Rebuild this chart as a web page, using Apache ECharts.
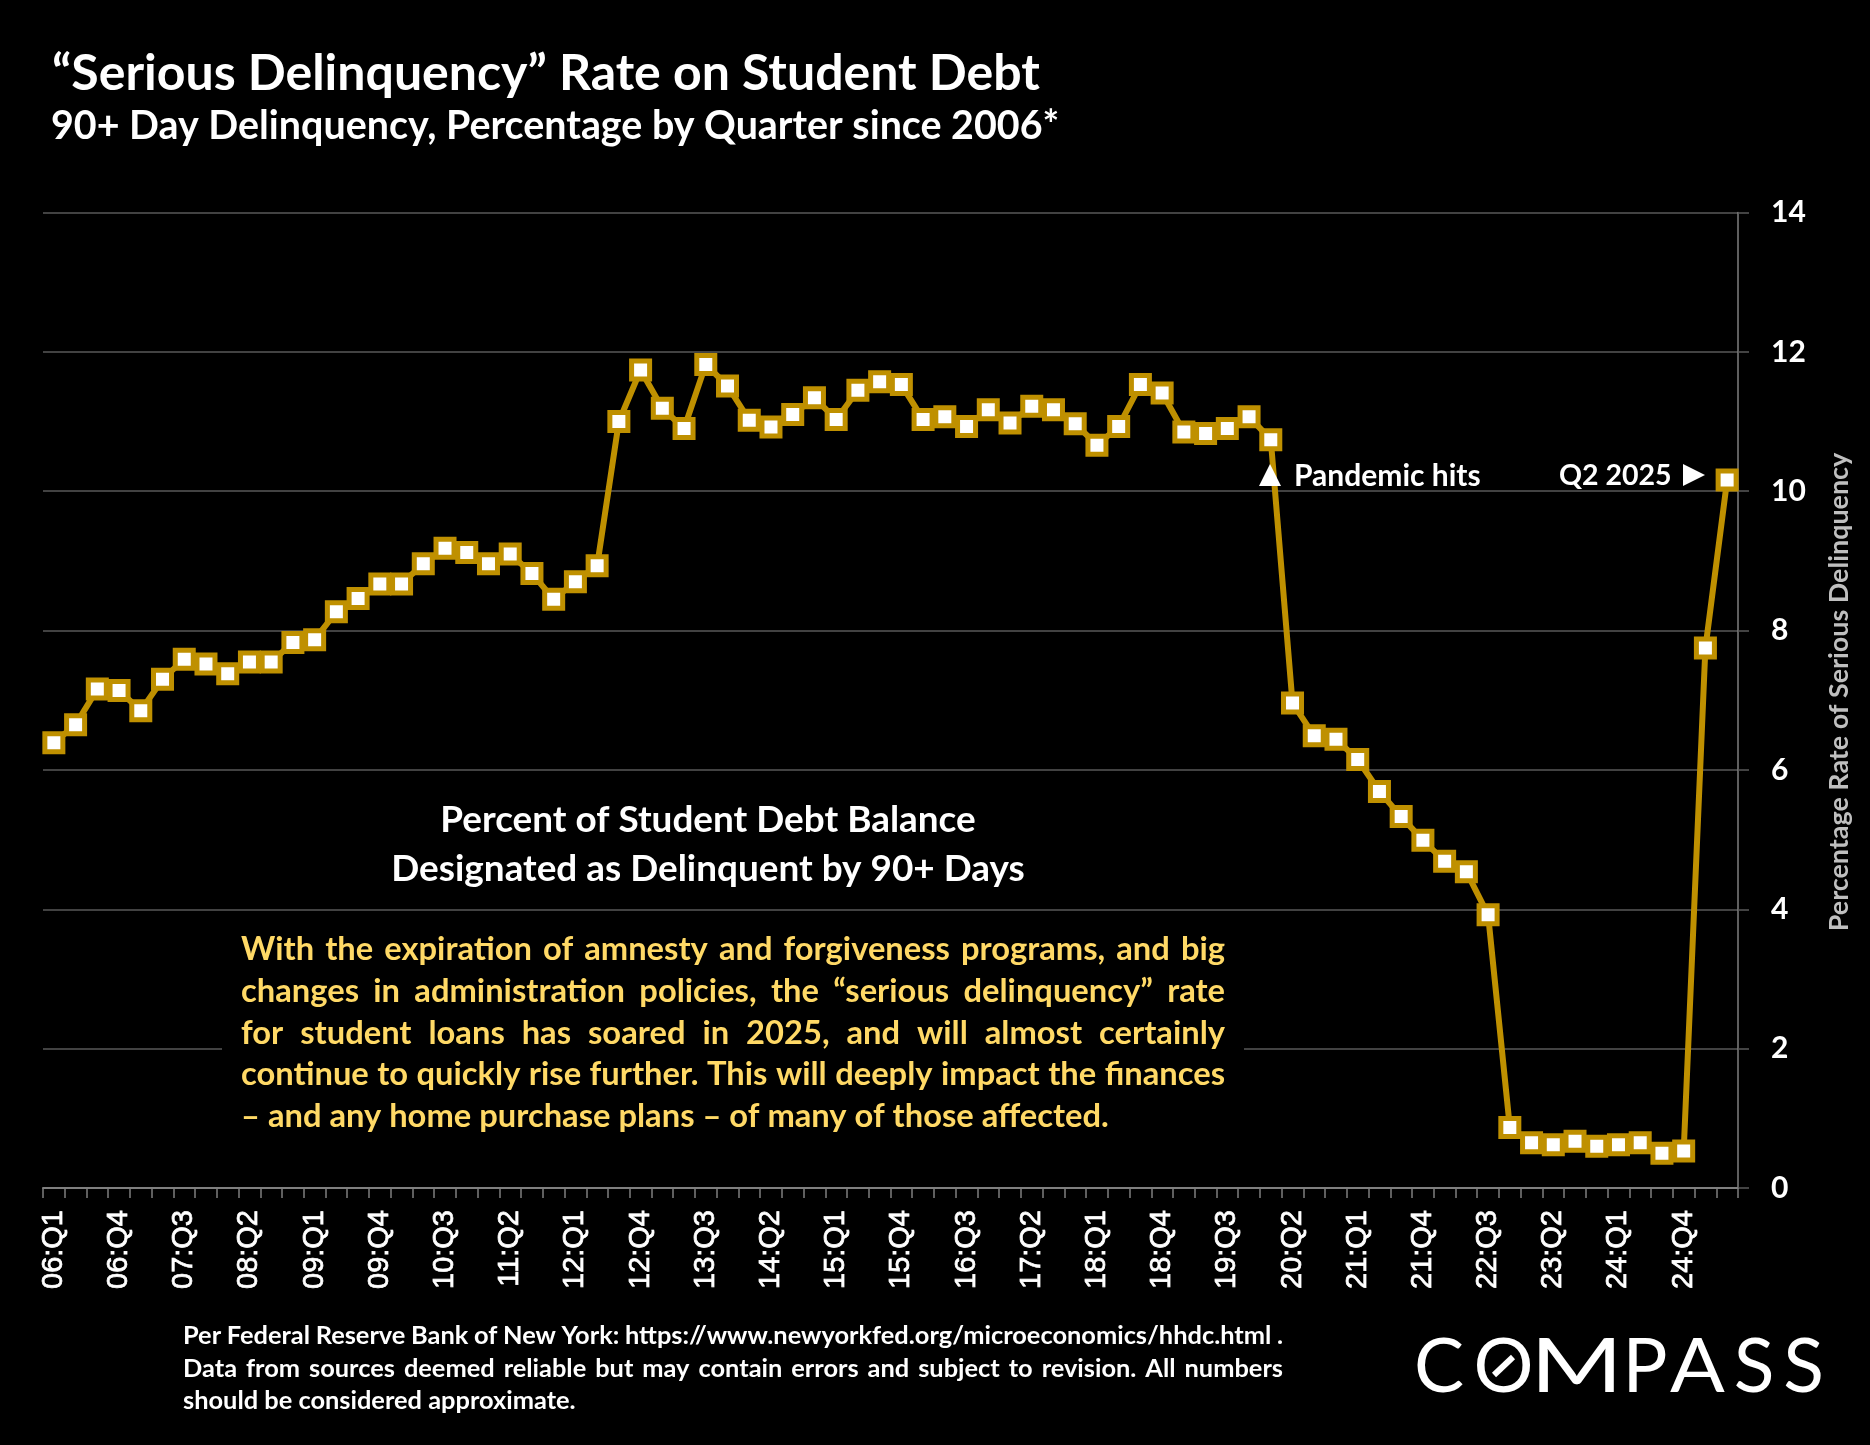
<!DOCTYPE html>
<html>
<head>
<meta charset="utf-8">
<title>Serious Delinquency Rate on Student Debt</title>
<script src="https://cdn.jsdelivr.net/npm/echarts@6/dist/echarts.min.js"></script>
<style>
html, body { margin: 0; padding: 0; background: #000; }
#main { width: 1870px; height: 1445px; }
</style>
</head>
<body>
<div id="main"></div>
<script>
// Quarters along the x axis
var quarters = [
	'06:Q1','06:Q2','06:Q3','06:Q4','07:Q1','07:Q2','07:Q3','07:Q4',
	'08:Q1','08:Q2','08:Q3','08:Q4','09:Q1','09:Q2','09:Q3','09:Q4',
	'10:Q1','10:Q2','10:Q3','10:Q4','11:Q1','11:Q2','11:Q3','11:Q4',
	'12:Q1','12:Q2','12:Q3','12:Q4','13:Q1','13:Q2','13:Q3','13:Q4',
	'14:Q1','14:Q2','14:Q3','14:Q4','15:Q1','15:Q2','15:Q3','15:Q4',
	'16:Q1','16:Q2','16:Q3','16:Q4','17:Q1','17:Q2','17:Q3','17:Q4',
	'18:Q1','18:Q2','18:Q3','18:Q4','19:Q1','19:Q2','19:Q3','19:Q4',
	'20:Q1','20:Q2','20:Q3','20:Q4','21:Q1','21:Q2','21:Q3','21:Q4',
	'22:Q1','22:Q2','22:Q3','22:Q4','23:Q1','23:Q2','23:Q3','23:Q4',
	'24:Q1','24:Q2','24:Q3','24:Q4','25:Q1','25:Q2'
];

// Percent of balance 90+ days delinquent
var delinquency = [
	6.39, 6.65, 7.16, 7.14, 6.85, 7.30, 7.59, 7.52,
	7.38, 7.55, 7.55, 7.83, 7.87, 8.27, 8.46, 8.67,
	8.67, 8.96, 9.18, 9.12, 8.96, 9.10, 8.82, 8.45,
	8.70, 8.93, 11.00, 11.74, 11.19, 10.90, 11.82, 11.51,
	11.02, 10.92, 11.10, 11.34, 11.03, 11.45, 11.57, 11.53,
	11.03, 11.07, 10.93, 11.17, 10.98, 11.22, 11.17, 10.97,
	10.66, 10.93, 11.53, 11.41, 10.85, 10.83, 10.90, 11.07,
	10.74, 6.96, 6.49, 6.44, 6.15, 5.69, 5.33, 4.99,
	4.69, 4.54, 3.92, 0.87, 0.65, 0.62, 0.67, 0.60,
	0.62, 0.65, 0.50, 0.53, 7.75, 10.16
];

var titleText = '\u201CSerious Delinquency\u201D Rate on Student Debt';
var subtitleText = '90+ Day Delinquency, Percentage by Quarter since 2006*';
var yAxisName = 'Percentage Rate of Serious Delinquency';
var centerLines = ['Percent of Student Debt Balance', 'Designated as Delinquent by 90+ Days'];
var noteLines = [
	'With the expiration of amnesty and forgiveness programs, and big',
	'changes in administration policies, the \u201Cserious delinquency\u201D rate',
	'for student loans has soared in 2025, and will almost certainly',
	'continue to quickly rise further. This will deeply impact the finances',
	'\u2013 and any home purchase plans \u2013 of many of those affected.'
];
var footLines = [
	'Per Federal Reserve Bank of New York: https://www.newyorkfed.org/microeconomics/hhdc.html .',
	'Data from sources deemed reliable but may contain errors and subject to revision. All numbers',
	'should be considered approximate.'
];
var logoLetters = ['C', 'O', 'M', 'P', 'A', 'S', 'S'];
var logoCenters = [1439, 1503.5, 1576.5, 1645, 1697.5, 1754, 1803.5];
var logoStretch = [1, 1, 1.33, 1, 1.08, 1, 1];

var FONT = 'Lato';
var GOLD = '#bf9000';

function textEl(str, x, y, size, color, align, weight) {
	return {
		type: 'text',
		z: 100,
		x: x,
		y: y,
		style: {
			text: str,
			fill: color,
			fontFamily: FONT,
			fontSize: size,
			fontWeight: weight || 'bold',
			textAlign: align || 'left',
			textVerticalAlign: 'middle'
		}
	};
}

// ECharts has no justified text, so lay each word out on its own
function justifyLine(str, left, right, y, size, color, stretch) {
	var ctx = document.createElement('canvas').getContext('2d');
	ctx.font = 'bold ' + size + 'px ' + FONT;
	var words = str.split(' ');
	var used = 0;
	for (var i = 0; i < words.length; i++) {
		used += ctx.measureText(words[i]).width;
	}
	var gap = stretch ? (right - left - used) / (words.length - 1) : ctx.measureText(' ').width;
	var els = [];
	var x = left;
	for (var j = 0; j < words.length; j++) {
		els.push(textEl(words[j], x, y, size, color));
		x += ctx.measureText(words[j]).width + gap;
	}
	return els;
}

function buildGraphics() {
	var els = [];
	var i;

	els.push(textEl(titleText, 52, 74, 50, '#fff'));
	els.push(textEl(subtitleText, 51, 126, 39.4, '#fff'));

	els.push(textEl(centerLines[0], 708, 820, 36.9, '#fff', 'center'));
	els.push(textEl(centerLines[1], 708, 869, 36.9, '#fff', 'center'));

	// black box the note sits on, it cuts the gridline at 2
	els.push({
		type: 'rect',
		z: 99,
		shape: { x: 222, y: 925, width: 1022, height: 225 },
		style: { fill: '#000' }
	});
	for (i = 0; i < noteLines.length; i++) {
		els = els.concat(justifyLine(noteLines[i], 241, 1225, 949.5 + i * 41.8, 32.7, '#ffd966', i < 4));
	}

	for (i = 0; i < footLines.length; i++) {
		els = els.concat(justifyLine(footLines[i], 183, 1283, 1336 + i * 32.5, 25.4, '#fff', i < 2));
	}

	// axis name, rotated by hand because it is not centred on the axis
	var axisName = textEl(yAxisName, 1839, 692, 26.9, '#bfbfbf', 'center');
	axisName.rotation = Math.PI / 2;
	els.push(axisName);

	// annotations
	els.push({
		type: 'polygon', z: 100,
		shape: { points: [[1270, 464], [1259, 486], [1281, 486]] },
		style: { fill: '#fff' }
	});
	els.push(textEl('Pandemic hits', 1294, 476, 30, '#fff'));
	els.push(textEl('Q2 2025', 1559, 476, 28.5, '#fff'));
	els.push({
		type: 'polygon', z: 100,
		shape: { points: [[1683, 464], [1683, 486], [1705, 475]] },
		style: { fill: '#fff' }
	});

	// logo
	for (i = 0; i < logoLetters.length; i++) {
		var letter = textEl(logoLetters[i], logoCenters[i], 1368, 75, '#fff', 'center', 'normal');
		letter.scaleX = logoStretch[i];
		els.push(letter);
	}
	els.push({
		type: 'line', z: 100,
		shape: { x1: 1494, y1: 1375, x2: 1513, y2: 1357 },
		style: { stroke: '#fff', lineWidth: 6 }
	});
	return els;
}

var myChart = echarts.init(document.getElementById('main'));

var option = {
	backgroundColor: '#000',
	animation: false,
	grid: {
		left: 43,
		right: 132,
		top: 212.5,
		height: 975.5,
		containLabel: false
	},
	xAxis: {
		type: 'category',
		data: quarters,
		boundaryGap: true,
		axisLine: { lineStyle: { color: '#7f7f7f', width: 2 } },
		axisTick: { show: true, interval: 0, length: 10, lineStyle: { color: '#7f7f7f', width: 1.5 } },
		axisLabel: {
			interval: 2,
			rotate: 90,
			margin: 22,
			color: '#fff',
			fontFamily: 'Liberation Sans',
			fontSize: 29,
			textBorderColor: '#fff',
			textBorderWidth: 0.7
		}
	},
	yAxis: {
		type: 'value',
		position: 'right',
		min: 0,
		max: 14,
		interval: 2,
		axisLine: { show: true, lineStyle: { color: '#7f7f7f', width: 1.5 } },
		axisTick: { show: true, length: 11, lineStyle: { color: '#595959', width: 1.5 } },
		axisLabel: {
			margin: 33,
			color: '#fff',
			fontFamily: FONT,
			fontWeight: 'bold',
			fontSize: 30
		},
		splitLine: { show: true, lineStyle: { color: '#595959', width: 1.5 } }
	},
	series: [
		{
			name: 'Serious Delinquency',
			type: 'line',
			data: delinquency,
			symbol: 'rect',
			symbolSize: 18,
			showAllSymbol: true,
			lineStyle: { color: GOLD, width: 6 },
			itemStyle: { color: '#fff', borderColor: GOLD, borderWidth: 5 }
		}
	],
	graphic: { elements: buildGraphics() }
};

myChart.setOption(option);
</script>
</body>
</html>
